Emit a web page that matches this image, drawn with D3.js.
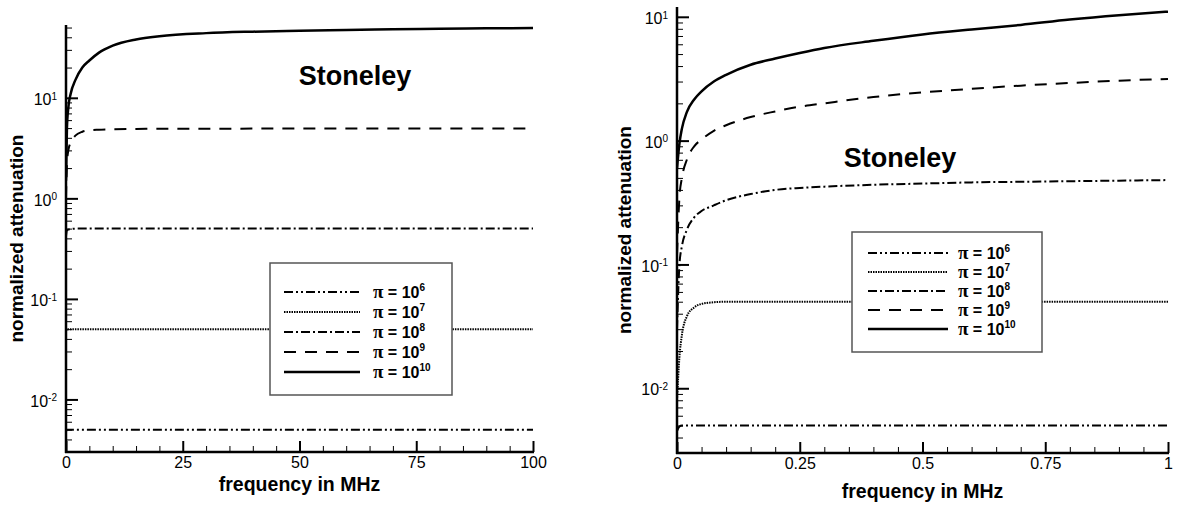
<!DOCTYPE html>
<html>
<head>
<meta charset="utf-8">
<script src="https://cdn.jsdelivr.net/npm/d3@7"></script>
<style>
  body { margin: 0; background: #fff; }
  text { font-family: "Liberation Sans", Arial, sans-serif; fill: #000; }
</style>
</head>
<body>
<div id="chart"></div>
<script>
// Stoneley attenuation, two panels (0-100 MHz and 0-1 MHz)

const exponents = ['6', '7', '8', '9', '10'];
const dashes = ['9,3,2,3,2,3', '1.5,1', '9,3,2,3', '12,9', null];
const widths = [2, 2, 2, 2, 2.5];

const leftTicks = [0, 25, 50, 75, 100];
const rightTicks = [0, 0.25, 0.5, 0.75, 1];
const yDecades = [0.01, 0.1, 1, 10];

// left panel, frequency in MHz
const leftFreq = [0, 0.2, 0.5, 1, 2, 3.5, 5, 7, 10, 15, 20, 30, 40, 50, 60, 70, 80, 90, 100];
const left6 = [0.0048, 0.005, 0.005, 0.005, 0.005, 0.005, 0.005, 0.005, 0.005, 0.005, 0.005, 0.005, 0.005, 0.005, 0.005, 0.005, 0.005, 0.005, 0.005];
const left7 = [0.048, 0.05, 0.05, 0.05, 0.05, 0.05, 0.05, 0.05, 0.05, 0.05, 0.05, 0.05, 0.05, 0.05, 0.05, 0.05, 0.05, 0.05, 0.05];
const left8 = [0.42, 0.48, 0.49, 0.495, 0.5, 0.5, 0.5, 0.5, 0.5, 0.5, 0.5, 0.5, 0.5, 0.5, 0.5, 0.5, 0.5, 0.5, 0.5];
const left9 = [1.0, 2.2, 3.0, 3.6, 4.2, 4.6, 4.75, 4.82, 4.87, 4.9, 4.92, 4.93, 4.94, 4.95, 4.95, 4.95, 4.95, 4.95, 4.95];
const left10 = [1.5, 5, 8, 11, 15, 20, 23.5, 28, 33, 38, 41, 44, 45.5, 46.5, 47.3, 48, 48.6, 49.1, 49.5];

// right panel, frequency in MHz
const rightFreq = [0, 0.005, 0.01, 0.02, 0.035, 0.05, 0.075, 0.1, 0.15, 0.2, 0.25, 0.3, 0.4, 0.5, 0.6, 0.7, 0.8, 0.9, 1];
const right6 = [0.0045, 0.0049, 0.005, 0.005, 0.005, 0.005, 0.005, 0.005, 0.005, 0.005, 0.005, 0.005, 0.005, 0.005, 0.005, 0.005, 0.005, 0.005, 0.005];
const right7 = [0.008, 0.018, 0.027, 0.038, 0.045, 0.048, 0.0495, 0.05, 0.05, 0.05, 0.05, 0.05, 0.05, 0.05, 0.05, 0.05, 0.05, 0.05, 0.05];
const right8 = [0.03, 0.1, 0.14, 0.19, 0.24, 0.27, 0.3, 0.33, 0.37, 0.4, 0.415, 0.425, 0.44, 0.45, 0.46, 0.465, 0.47, 0.475, 0.48];
const right9 = [0.12, 0.35, 0.5, 0.7, 0.9, 1.02, 1.2, 1.33, 1.55, 1.72, 1.88, 2.0, 2.25, 2.45, 2.62, 2.78, 2.92, 3.05, 3.15];
const right10 = [0.6, 0.95, 1.25, 1.7, 2.15, 2.5, 3.0, 3.4, 4.1, 4.6, 5.1, 5.6, 6.4, 7.2, 7.9, 8.6, 9.5, 10.3, 11.0];

const W = 1177, H = 505;

const svg = d3.select('#chart').append('svg')
    .attr('width', W)
    .attr('height', H)
    .style('background', '#fff');

const panels = [
    {
        x0: 66, x1: 533, top: 25, bottom: 452,
        xDomain: [0, 100], yDomain: [0.003, 53],
        ticks: leftTicks, minorStep: 5, fmt: d => String(d),
        freq: leftFreq, series: [left6, left7, left8, left9, left10],
        title: [355, 85], legend: { x: 270, y: 263, w: 182, h: 132, row0: 292, step: 20, lx0: 284, lx1: 360, tx: 373 },
        yLabelX: 23, xLabelY: 491
    },
    {
        x0: 677, x1: 1168, top: 7, bottom: 453,
        xDomain: [0, 1], yDomain: [0.003, 12],
        ticks: rightTicks, minorStep: 0.05, fmt: d => String(d),
        freq: rightFreq, series: [right6, right7, right8, right9, right10],
        title: [900, 167], legend: { x: 852, y: 232, w: 190, h: 120, row0: 253, step: 19, lx0: 868, lx1: 948, tx: 958 },
        yLabelX: 631, xLabelY: 498
    }
];

panels.forEach((p, pi) => {
    const x = d3.scaleLinear().domain(p.xDomain).range([p.x0, p.x1]);
    const y = d3.scaleLog().domain(p.yDomain).range([p.bottom, p.top]);

    const g = svg.append('g');

    // clip for curves
    const clipId = 'clip' + pi;
    svg.append('clipPath').attr('id', clipId)
        .append('rect')
        .attr('x', p.x0).attr('y', p.top)
        .attr('width', p.x1 - p.x0).attr('height', p.bottom - p.top);

    // minor ticks on y
    const minorY = [];
    for (let e = -3; e <= 2; e++) {
        for (let m = 2; m <= 9; m++) {
            const v = m * Math.pow(10, e);
            if (v >= p.yDomain[0] && v <= p.yDomain[1]) minorY.push(v);
        }
    }
    g.append('g')
        .attr('transform', `translate(${p.x0},0)`)
        .call(d3.axisLeft(y).tickValues(minorY).tickSizeInner(-6).tickSizeOuter(0).tickFormat(''))
        .call(s => s.select('.domain').remove())
        .selectAll('line').attr('stroke', '#000').attr('stroke-width', 1);

    // minor ticks on x
    const minorX = d3.range(p.xDomain[0], p.xDomain[1] + p.minorStep / 2, p.minorStep)
        .filter(v => !p.ticks.some(t => Math.abs(t - v) < 1e-9));
    g.append('g')
        .attr('transform', `translate(0,${p.bottom})`)
        .call(d3.axisBottom(x).tickValues(minorX).tickSizeInner(-6).tickSizeOuter(0).tickFormat(''))
        .call(s => s.select('.domain').remove())
        .selectAll('line').attr('stroke', '#000').attr('stroke-width', 1);

    // major y axis
    const yAxis = g.append('g')
        .attr('transform', `translate(${p.x0},0)`)
        .call(d3.axisLeft(y).tickValues(yDecades).tickSizeInner(-12).tickSizeOuter(0).tickPadding(9).tickFormat(''));
    yAxis.select('.domain')
        .attr('stroke', '#000').attr('stroke-width', 2.5)
        .attr('d', `M0,${p.top}V${p.bottom + 1}`);
    yAxis.selectAll('.tick line').attr('stroke', '#000').attr('stroke-width', 2);
    yAxis.selectAll('.tick text')
        .attr('font-size', 16)
        .attr('dy', '0.42em')
        .each(function(d) {
            const t = d3.select(this);
            t.append('tspan').text('10');
            t.append('tspan')
                .attr('dy', '-0.55em')
                .attr('font-size', 10)
                .text(Math.round(Math.log10(d)));
        });

    // major x axis
    const xAxis = g.append('g')
        .attr('transform', `translate(0,${p.bottom})`)
        .call(d3.axisBottom(x).tickValues(p.ticks).tickSizeInner(-11).tickSizeOuter(0).tickPadding(5).tickFormat(p.fmt));
    xAxis.select('.domain')
        .attr('stroke', '#000').attr('stroke-width', 2.5)
        .attr('d', `M${p.x0 - 1},0H${p.x1 + 1}`);
    xAxis.selectAll('.tick line').attr('stroke', '#000').attr('stroke-width', 2);
    xAxis.selectAll('.tick text').attr('font-size', 16).attr('fill', '#000');

    // curves
    const line = d3.line()
        .x((d, i) => x(p.freq[i]))
        .y(d => y(d))
        .curve(d3.curveMonotoneX);

    const curves = g.append('g').attr('clip-path', `url(#${clipId})`);
    p.series.forEach((vals, si) => {
        curves.append('path')
            .datum(vals)
            .attr('d', line)
            .attr('fill', 'none')
            .attr('stroke', '#000')
            .attr('stroke-width', widths[si])
            .attr('stroke-dasharray', dashes[si]);
    });

    // axis labels
    g.append('text')
        .attr('x', (p.x0 + p.x1) / 2)
        .attr('y', p.xLabelY)
        .attr('text-anchor', 'middle')
        .attr('font-size', 19.5)
        .attr('font-weight', 'bold')
        .text('frequency in MHz');

    g.append('text')
        .attr('transform', `translate(${p.yLabelX},${(p.top + p.bottom) / 2}) rotate(-90)`)
        .attr('text-anchor', 'middle')
        .attr('font-size', 19)
        .attr('font-weight', 'bold')
        .text('normalized attenuation');

    // title
    g.append('text')
        .attr('x', p.title[0])
        .attr('y', p.title[1])
        .attr('text-anchor', 'middle')
        .attr('font-size', 27)
        .attr('font-weight', 'bold')
        .text('Stoneley');

    // legend
    const L = p.legend;
    const lg = g.append('g');
    lg.append('rect')
        .attr('x', L.x).attr('y', L.y)
        .attr('width', L.w).attr('height', L.h)
        .attr('fill', '#fff')
        .attr('stroke', '#555')
        .attr('stroke-width', 1.5);

    exponents.forEach((ex, i) => {
        const ry = L.row0 + i * L.step;
        lg.append('line')
            .attr('x1', L.lx0).attr('x2', L.lx1)
            .attr('y1', ry).attr('y2', ry)
            .attr('stroke', '#000')
            .attr('stroke-width', widths[i])
            .attr('stroke-dasharray', dashes[i]);
        const t = lg.append('text')
            .attr('x', L.tx)
            .attr('y', ry + 6)
            .attr('font-size', 16)
            .attr('font-weight', 'bold');
        t.append('tspan').attr('font-family', '"Liberation Serif", "Times New Roman", serif').attr('font-size', 19).text('\u03C0');
        t.append('tspan').text(' = 10');
        t.append('tspan').attr('dy', -7).attr('font-size', 10).text(ex);
    });
});
</script>
</body>
</html>
